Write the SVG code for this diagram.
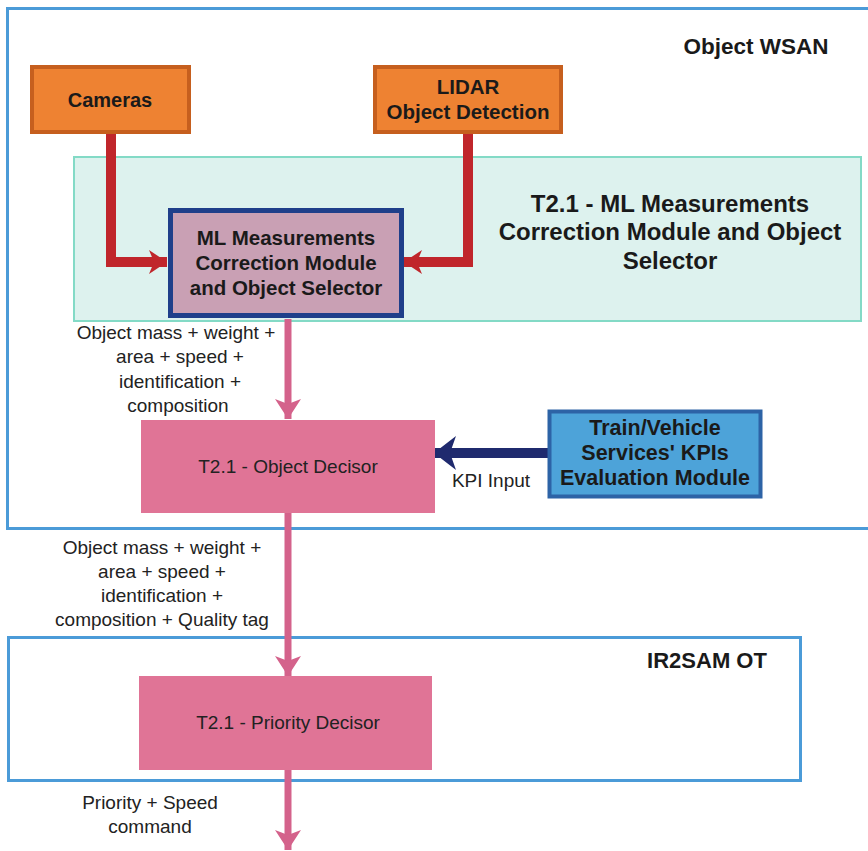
<svg xmlns="http://www.w3.org/2000/svg" width="868" height="851" viewBox="0 0 868 851">
<defs>
<style>
text{font-family:"Liberation Sans",Arial,sans-serif;fill:#1a1a1a;text-anchor:middle}
.b{font-weight:bold}
.lbl{font-size:19px;fill:#222}
.orange{fill:#EE8232;stroke:#C65F1E;stroke-width:4}
.pinkbox{fill:#E07496}
</style>
<marker id="redHead" markerUnits="userSpaceOnUse" markerWidth="20" markerHeight="24" refX="18" refY="12" orient="auto"><path d="M0,0 L18,12 L0,24 L5,12 Z" fill="#C0262B"/></marker>
<marker id="navyHead" markerUnits="userSpaceOnUse" markerWidth="22" markerHeight="34" refX="22" refY="17" orient="auto"><path d="M0,0 L22,17 L0,34 L6,17 Z" fill="#1F2A6E"/></marker>
<marker id="pinkHead" markerUnits="userSpaceOnUse" markerWidth="22" markerHeight="26" refX="20" refY="13" orient="auto"><path d="M0,0 L20,13 L0,26 L5,13 Z" fill="#D4628B"/></marker>
</defs>
<rect width="868" height="851" fill="#fff"/>
<g id="object-wsan">
<rect x="7.5" y="8.5" width="862" height="520" fill="none" stroke="#4B9BD8" stroke-width="3"/>
<text class="b" x="756" y="54" font-size="22.5">Object WSAN</text>
</g>
<g id="ir2sam-ot">
<rect x="8.5" y="637.5" width="792" height="143" fill="none" stroke="#4B9BD8" stroke-width="3"/>
<text class="b" x="707" y="668" font-size="22">IR2SAM OT</text>
</g>
<g id="t21-region">
<rect x="74" y="157" width="787" height="164" fill="#DDF2EE" stroke="#83DAC6" stroke-width="2"/>
<text class="b" x="670" y="212" font-size="24">T2.1 - ML Measurements</text>
<text class="b" x="670" y="240" font-size="24">Correction Module and Object</text>
<text class="b" x="670" y="269" font-size="24">Selector</text>
</g>
<g id="connectors" fill="none">
<path d="M111,133 V262 H167" stroke="#C0262B" stroke-width="10" marker-end="url(#redHead)"/>
<path d="M468,133 V262 H404" stroke="#C0262B" stroke-width="10" marker-end="url(#redHead)"/>
<path d="M288,319 V419" stroke="#D4628B" stroke-width="7" marker-end="url(#pinkHead)"/>
<path d="M548,453 H434" stroke="#1F2A6E" stroke-width="10" marker-end="url(#navyHead)"/>
<path d="M288,513 V676" stroke="#D4628B" stroke-width="7" marker-end="url(#pinkHead)"/>
<path d="M288,770 V850" stroke="#D4628B" stroke-width="7" marker-end="url(#pinkHead)"/>
</g>
<g id="cameras">
<rect class="orange" x="32" y="67" width="157" height="65"/>
<text class="b" x="110" y="107" font-size="20">Cameras</text>
</g>
<g id="lidar">
<rect class="orange" x="375" y="67" width="186" height="65"/>
<text class="b" x="468" y="94" font-size="20.5">LIDAR</text>
<text class="b" x="468" y="119" font-size="20.5">Object Detection</text>
</g>
<g id="ml-module">
<rect x="170.5" y="210.5" width="231" height="105" fill="#C9A0B4" stroke="#1F3F8A" stroke-width="5"/>
<text class="b" x="286" y="245" font-size="20.5" fill="#2a2a2a">ML Measurements</text>
<text class="b" x="286" y="270" font-size="20.5" fill="#2a2a2a">Correction Module</text>
<text class="b" x="286" y="295" font-size="20.5" fill="#2a2a2a">and Object Selector</text>
</g>
<g id="label-ml-out">
<text class="lbl" x="176" y="339">Object mass + weight +</text>
<text class="lbl" x="180" y="363">area + speed +</text>
<text class="lbl" x="180" y="388">identification +</text>
<text class="lbl" x="178" y="412">composition</text>
</g>
<g id="object-decisor">
<rect class="pinkbox" x="141" y="420" width="294" height="93"/>
<text class="lbl" x="288" y="473" font-size="20">T2.1 - Object Decisor</text>
</g>
<g id="kpi-module">
<rect x="549.5" y="411.5" width="211" height="85" fill="#4DA3D9" stroke="#2D63A6" stroke-width="4"/>
<text class="b" x="655" y="435" font-size="21.5">Train/Vehicle</text>
<text class="b" x="655" y="460" font-size="21.5">Services' KPIs</text>
<text class="b" x="655" y="485" font-size="21.5">Evaluation Module</text>
</g>
<text class="lbl" x="491" y="487">KPI Input</text>
<g id="label-decisor-out">
<text class="lbl" x="162" y="554">Object mass + weight +</text>
<text class="lbl" x="162" y="578">area + speed +</text>
<text class="lbl" x="162" y="602">identification +</text>
<text class="lbl" x="162" y="626">composition + Quality tag</text>
</g>
<g id="priority-decisor">
<rect class="pinkbox" x="139" y="676" width="293" height="94"/>
<text class="lbl" x="288" y="729" font-size="20">T2.1 - Priority Decisor</text>
</g>
<g id="label-priority-out">
<text class="lbl" x="150" y="809">Priority + Speed</text>
<text class="lbl" x="150" y="833">command</text>
</g>
</svg>
